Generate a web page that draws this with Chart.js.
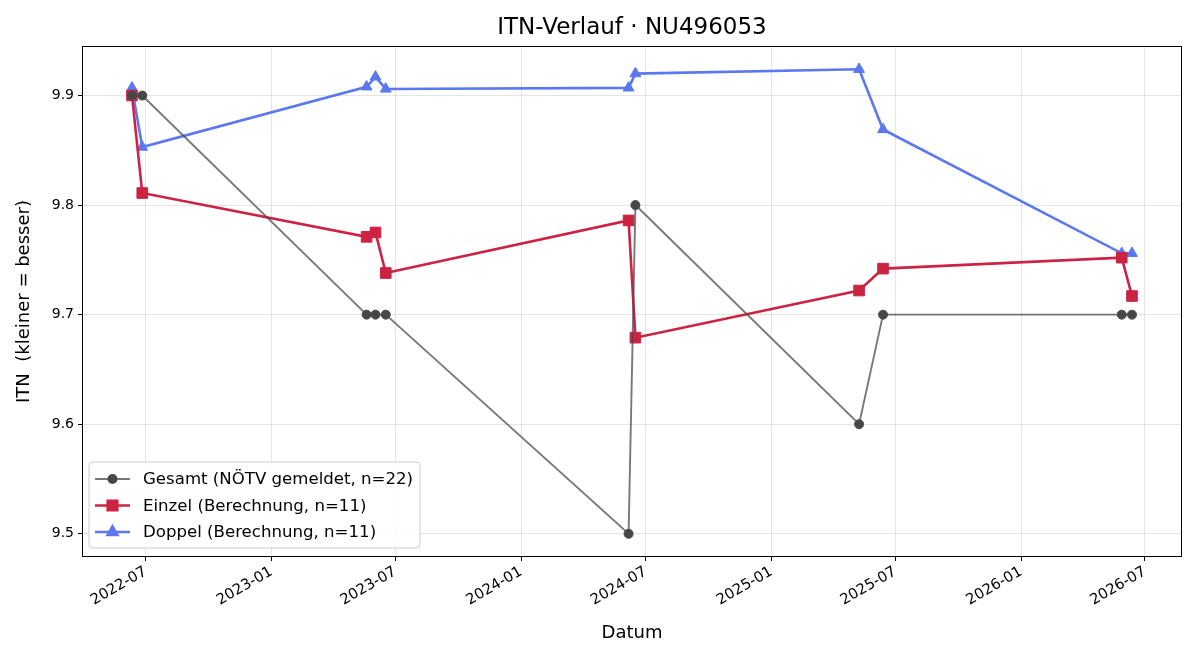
<!DOCTYPE html>
<html>
<head>
<meta charset="utf-8">
<script src="https://cdn.jsdelivr.net/npm/chart.js@4/dist/chart.umd.min.js"></script>
<style>
  html, body { margin: 0; padding: 0; background: #fff; }
  #wrap { width: 1200px; height: 660px; position: relative; }
</style>
</head>
<body>
<div id="wrap"><canvas id="c" width="1200" height="660"></canvas></div>
<script>
// ---- Data ----
const dates = [
  '2022-06-11', '2022-06-26', '2023-05-20', '2023-06-02', '2023-06-17',
  '2024-06-06', '2024-06-16', '2025-05-09', '2025-06-13', '2026-05-28', '2026-06-12'
];
const gesamt = [9.9, 9.9, 9.7, 9.7, 9.7, 9.5, 9.8, 9.6, 9.7, 9.7, 9.7];
const einzel = [9.900, 9.811, 9.771, 9.775, 9.738, 9.786, 9.679, 9.722, 9.742, 9.752, 9.717];
const doppel = [9.907, 9.853, 9.908, 9.917, 9.906, 9.907, 9.920, 9.924, 9.869, 9.756, 9.756];
const xTickLabels = ['2022-07', '2023-01', '2023-07', '2024-01', '2024-07', '2025-01', '2025-07', '2026-01', '2026-07'];
const yTickValues = [9.5, 9.6, 9.7, 9.8, 9.9];
const seriesLabels = [
  'Gesamt (NÖTV gemeldet, n=22)',
  'Einzel (Berechnung, n=11)',
  'Doppel (Berechnung, n=11)'
];
const chartTitle = 'ITN-Verlauf · NU496053';

const toTs = s => Date.parse(s + (s.length === 7 ? '-01' : '') + 'T00:00:00Z');
const xs = dates.map(toTs);
const xTickValues = xTickLabels.map(toTs);
const pts = vals => vals.map((v, i) => ({ x: xs[i], y: v }));

const xMinData = Math.min(...xs), xMaxData = Math.max(...xs);
const xSpan = xMaxData - xMinData;
const allY = gesamt.concat(einzel, doppel);
const yMinData = Math.min(...allY), yMaxData = Math.max(...allY);
const ySpan = yMaxData - yMinData;

const FONT = "'DejaVu Sans', sans-serif";
const GRAY_LINE = 'rgba(75,75,75,0.75)';
const GRAY_PT = '#474747';
const RED = '#cc2343';
const BLUE = '#5b78ef';

const styles = [
  { line: GRAY_LINE, pt: GRAY_PT, style: 'circle', r: 4.5, w: 1.9 },
  { line: RED, pt: RED, style: 'rect', r: 7.5, w: 2.6 },
  { line: BLUE, pt: BLUE, style: 'triangle', r: 6.3, w: 2.6 }
];

// title centred over the plot area (matplotlib style)
const titlePlugin = {
  id: 'mplTitle',
  afterDraw(chart) {
    const { ctx, chartArea: ca } = chart;
    ctx.save();
    ctx.font = '23px ' + FONT;
    ctx.fillStyle = '#000';
    ctx.textAlign = 'center';
    ctx.textBaseline = 'middle';
    ctx.fillText(chartTitle, (ca.left + ca.right) / 2, 28);
    ctx.restore();
  }
};

// custom in-plot legend (matplotlib "lower left")
const legendPlugin = {
  id: 'mplLegend',
  afterDraw(chart) {
    const ctx = chart.ctx;
    const ca = chart.chartArea;
    const x0 = ca.left + 7, y0 = ca.bottom - 95, w = 331, h = 86;
    ctx.save();
    ctx.beginPath();
    const r = 4;
    ctx.moveTo(x0 + r, y0);
    ctx.arcTo(x0 + w, y0, x0 + w, y0 + h, r);
    ctx.arcTo(x0 + w, y0 + h, x0, y0 + h, r);
    ctx.arcTo(x0, y0 + h, x0, y0, r);
    ctx.arcTo(x0, y0, x0 + w, y0, r);
    ctx.closePath();
    ctx.fillStyle = 'rgba(255,255,255,0.85)';
    ctx.fill();
    ctx.strokeStyle = '#cccccc';
    ctx.lineWidth = 1;
    ctx.stroke();
    ctx.font = '16.6px ' + FONT;
    ctx.textBaseline = 'middle';
    ctx.textAlign = 'left';
    seriesLabels.forEach((lab, i) => {
      const cy = y0 + 17 + i * 26.5;
      const s = styles[i];
      ctx.strokeStyle = s.line;
      ctx.lineWidth = s.w;
      ctx.beginPath();
      ctx.moveTo(x0 + 6, cy);
      ctx.lineTo(x0 + 41, cy);
      ctx.stroke();
      ctx.fillStyle = s.pt;
      ctx.strokeStyle = s.pt;
      Chart.helpers.drawPoint(ctx, { pointStyle: s.style, radius: s.r * 0.9, borderWidth: 1, rotation: 0 }, x0 + 23.5, cy);
      ctx.fillStyle = '#000';
      ctx.fillText(lab, x0 + 54, cy + 1);
    });
    ctx.restore();
  }
};

const framePlugin = {
  id: 'frame',
  afterDatasetsDraw(chart) {
    const { ctx, chartArea: ca } = chart;
    ctx.save();
    ctx.strokeStyle = '#000';
    ctx.lineWidth = 1;
    ctx.strokeRect(Math.round(ca.left) + 0.5, Math.round(ca.top) + 0.5,
      Math.round(ca.right - ca.left) - 1, Math.round(ca.bottom - ca.top) - 1);
    ctx.restore();
  }
};

const mkDs = (i, vals) => ({
  label: seriesLabels[i],
  data: pts(vals),
  borderColor: styles[i].line,
  borderWidth: styles[i].w,
  backgroundColor: styles[i].pt,
  pointBackgroundColor: styles[i].pt,
  pointBorderColor: styles[i].pt,
  pointBorderWidth: 1,
  pointStyle: styles[i].style,
  pointRadius: styles[i].r,
  pointHoverRadius: styles[i].r,
  tension: 0,
  fill: false
});

new Chart(document.getElementById('c'), {
  type: 'line',
  data: {
    datasets: [mkDs(0, gesamt), mkDs(1, einzel), mkDs(2, doppel)]
  },
  plugins: [framePlugin, legendPlugin, titlePlugin],
  options: {
    responsive: false,
    animation: false,
    devicePixelRatio: 1,
    layout: { padding: { left: 0, right: 18, top: 46, bottom: 0 } },
    plugins: {
      legend: { display: false },
      tooltip: { enabled: false },
      title: { display: false }
    },
    scales: {
      x: {
        type: 'linear',
        min: xMinData - 0.05 * xSpan,
        max: xMaxData + 0.05 * xSpan,
        afterBuildTicks: s => { s.ticks = xTickValues.map(v => ({ value: v })); },
        afterFit: s => { s.height = 103; },
        ticks: {
          autoSkip: false,
          maxRotation: 30,
          minRotation: 30,
          color: '#000',
          font: { family: FONT, size: 14.8 },
          padding: 2,
          callback: v => new Date(v).toISOString().slice(0, 7)
        },
        grid: { color: 'rgba(0,0,0,0.1)', tickColor: '#000', tickLength: 4, lineWidth: 1 },
        border: { display: false },
        title: {
          display: true, text: 'Datum', color: '#000',
          font: { family: FONT, size: 18 },
          padding: { top: 0, bottom: 16 }
        }
      },
      y: {
        type: 'linear',
        min: yMinData - 0.05 * ySpan,
        max: yMaxData + 0.05 * ySpan,
        afterBuildTicks: s => { s.ticks = yTickValues.map(v => ({ value: v })); },
        afterFit: s => { s.width = 82; },
        ticks: {
          color: '#000',
          font: { family: FONT, size: 14 },
          padding: 4,
          callback: v => Number(v).toFixed(1)
        },
        grid: { color: 'rgba(0,0,0,0.1)', tickColor: '#000', tickLength: 4, lineWidth: 1 },
        border: { display: false },
        title: {
          display: true, text: 'ITN  (kleiner = besser)', color: '#000',
          font: { family: FONT, size: 18 },
          padding: { top: 14, bottom: 0 }
        }
      }
    }
  }
});
</script>
</body>
</html>
